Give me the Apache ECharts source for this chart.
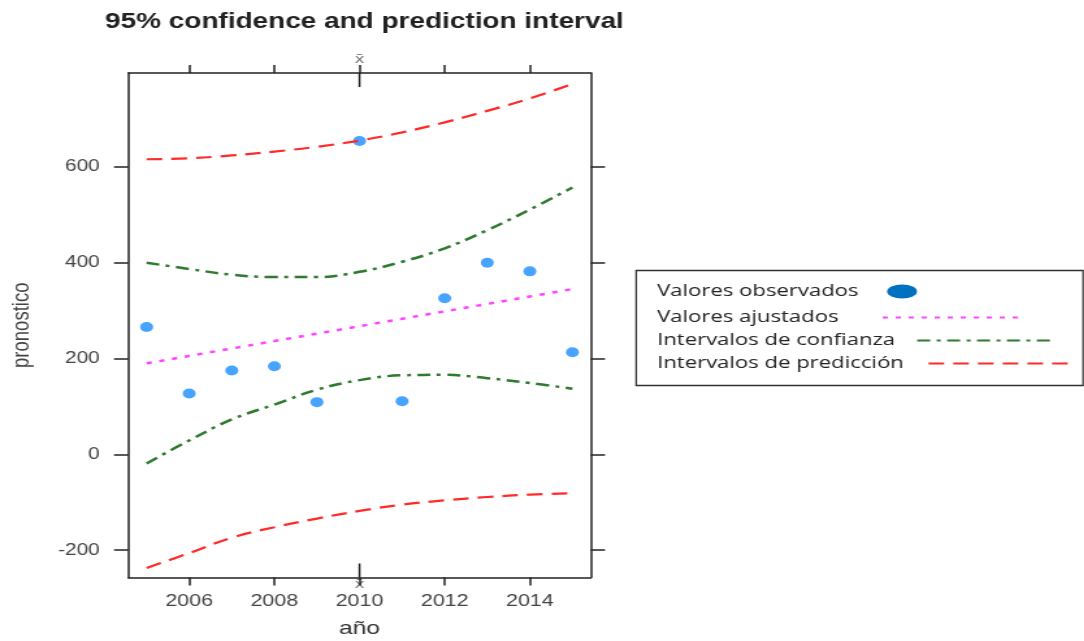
<!DOCTYPE html>
<html><head><meta charset="utf-8">
<script src="https://cdn.jsdelivr.net/npm/echarts@6/dist/echarts.min.js"></script>
<style>
html,body{margin:0;padding:0;background:#fff;overflow:hidden;width:1084px;height:641px;}
#c{width:834px;height:641px;transform:scaleX(1.3);transform-origin:0 0;}
</style></head><body><div id="c"></div>
<script>
// ---- data ----
const years = [2005, 2006, 2007, 2008, 2009, 2010, 2011, 2012, 2013, 2014, 2015];
const observed = [266, 127, 175, 184, 109, 654, 111, 326, 400, 382, 213];
const fitted = [190, 205.5, 221, 236.5, 252, 267.5, 283, 298.5, 314, 329.5, 345];
const confUpper = [400, 387, 375, 370, 370, 381, 402, 430, 468, 511, 557];
const confLower = [-19, 29, 73, 104, 135, 155, 165, 166, 159, 149, 137];
const predUpper = [616, 618, 624, 632, 642, 655, 672, 693, 717, 743, 773];
const predLower = [-237, -206, -174, -152, -134, -118, -105, -96, -89, -84, -81];
const xTicks = [2006, 2008, 2010, 2012, 2014];
const yTicks = [-200, 0, 200, 400, 600];
const meanYear = 2010;

const pairs = arr => years.map((y, i) => [y, arr[i]]);

const chart = echarts.init(document.getElementById('c'), null, {renderer: 'canvas'});
const axisColor = '#222';
const labelFont = 'Liberation Sans';

function xAxisCfg(pos, showLabel) {
  return {
    type: 'value', position: pos, min: 2004.57, max: 2015.43,
    axisLine: {show: true, onZero: false, lineStyle: {color: axisColor, width: 1.5}},
    axisTick: {show: true, length: 8, customValues: xTicks, lineStyle: {color: axisColor, width: 1.5}},
    axisLabel: {show: showLabel, customValues: xTicks, fontSize: 16.5, color: '#444', margin: 15,
                fontFamily: labelFont, formatter: v => String(v)},
    splitLine: {show: false},
    name: showLabel ? 'año' : '', nameLocation: 'middle', nameGap: 42,
    nameTextStyle: {fontSize: 19, color: '#333', fontFamily: labelFont}
  };
}
function yAxisCfg(pos, showLabel) {
  return {
    type: 'value', position: pos, min: -257, max: 796,
    axisLine: {show: true, onZero: false, lineStyle: {color: axisColor, width: 1.5}},
    axisTick: {show: true, length: 11, customValues: yTicks, lineStyle: {color: axisColor, width: 1.5}},
    axisLabel: {show: showLabel, customValues: yTicks, fontSize: 16, color: '#444', margin: 22,
                fontFamily: labelFont, formatter: v => String(v)},
    splitLine: {show: false},
    name: showLabel ? 'pronostico' : '', nameLocation: 'middle', nameGap: 72,
    nameTextStyle: {fontSize: 18.5, color: '#444', fontFamily: labelFont}
  };
}

function legendCfg(name, top, pad, w) {
  return {
    orient: 'horizontal', align: 'right', left: 505.4, top: top, padding: 0,
    itemWidth: w, itemHeight: 14, selectedMode: false,
    itemStyle: {color: 'rgba(0,0,0,0)', borderWidth: 0, opacity: 0},
    textStyle: {fontFamily: 'Open Sans', fontSize: 17, color: '#222', padding: [0, pad, 0, 0]},
    data: [name]
  };
}

const redStyle = {color: '#ff2a2a', width: 2.2, type: [12, 7]};
const greenStyle = {color: '#2e7a2e', width: 2.5, type: [10, 5, 3, 5]};
const pinkStyle = {color: '#ff44ff', width: 2.5, type: [4, 6]};

const obsLegend = legendCfg({name: 'Valores observados',
  icon: 'path://M0,7A11.5,7 0 1,0 23,7A11.5,7 0 1,0 0,7Z',
  itemStyle: {color: '#0070c0', opacity: 1}}, 283, 17, 23);
delete obsLegend.itemStyle;

chart.setOption({
  animation: false,
  backgroundColor: '#fff',
  title: {
    text: '95% confidence and prediction interval', left: 80.8, top: 11, padding: 0,
    textStyle: {fontSize: 21.5, fontWeight: 'bold', color: '#222', fontFamily: labelFont}
  },
  grid: {left: 98.7, right: 379.6, top: 73, bottom: 63.5, containLabel: false, outerBoundsMode: 'none'},
  xAxis: [xAxisCfg('bottom', true), xAxisCfg('top', false)],
  yAxis: [yAxisCfg('left', true), yAxisCfg('right', false)],
  legend: [
    obsLegend,
    legendCfg('Valores ajustados', 309, 29, 108),
    legendCfg('Intervalos de confianza', 332, 12, 104),
    legendCfg('Intervalos de predicción', 355, 14, 109)
  ],
  series: [
    {name: 'Valores observados', type: 'scatter', data: pairs(observed), symbol: 'circle', symbolSize: 10,
     itemStyle: {color: '#1a8cff'}, z: 1},
    {name: 'Valores ajustados', type: 'line', data: pairs(fitted), symbol: 'none', lineStyle: pinkStyle, itemStyle: {color: '#ff44ff'}, z: 3},
    {name: 'Intervalos de confianza', type: 'line', data: pairs(confUpper), symbol: 'none', smooth: 0.4, lineStyle: greenStyle, itemStyle: {color: '#2e7a2e'}, z: 3},
    {name: 'Intervalos de confianza', type: 'line', data: pairs(confLower), symbol: 'none', smooth: 0.4, lineStyle: greenStyle, itemStyle: {color: '#2e7a2e'}, z: 3},
    {name: 'Intervalos de predicción', type: 'line', data: pairs(predUpper), symbol: 'none', smooth: 0.4, lineStyle: redStyle, itemStyle: {color: '#ff2a2a'}, z: 3},
    {name: 'Intervalos de predicción', type: 'line', data: pairs(predLower), symbol: 'none', smooth: 0.4, lineStyle: redStyle, itemStyle: {color: '#ff2a2a'}, z: 3}
  ]
});

// rug mark for the mean of x, placed through the axis scale
const mx = chart.convertToPixel({xAxisIndex: 0}, meanYear);
const yTop = chart.convertToPixel({yAxisIndex: 0}, 796);
const yBot = chart.convertToPixel({yAxisIndex: 0}, -257);
chart.setOption({
  graphic: [
    {type: 'rect', left: 486.9, top: 268, shape: {width: 343.8, height: 115}, style: {fill: 'none', stroke: '#333', lineWidth: 1.3}, z: -1},
    {type: 'line', shape: {x1: mx, y1: yTop, x2: mx, y2: yTop + 14}, style: {stroke: axisColor, lineWidth: 1.5}},
    {type: 'line', shape: {x1: mx, y1: yBot - 14, x2: mx, y2: yBot}, style: {stroke: axisColor, lineWidth: 1.5}},
    {type: 'text', x: mx, y: yTop - 13, style: {text: 'x\u0304', fontSize: 13, fill: '#777', align: 'center', verticalAlign: 'middle', fontFamily: 'DejaVu Sans'}},
    {type: 'text', x: mx, y: yBot + 7, style: {text: 'x\u0304', fontSize: 13, fill: '#777', align: 'center', verticalAlign: 'middle', fontFamily: 'DejaVu Sans'}}
  ]
});
</script></body></html>
